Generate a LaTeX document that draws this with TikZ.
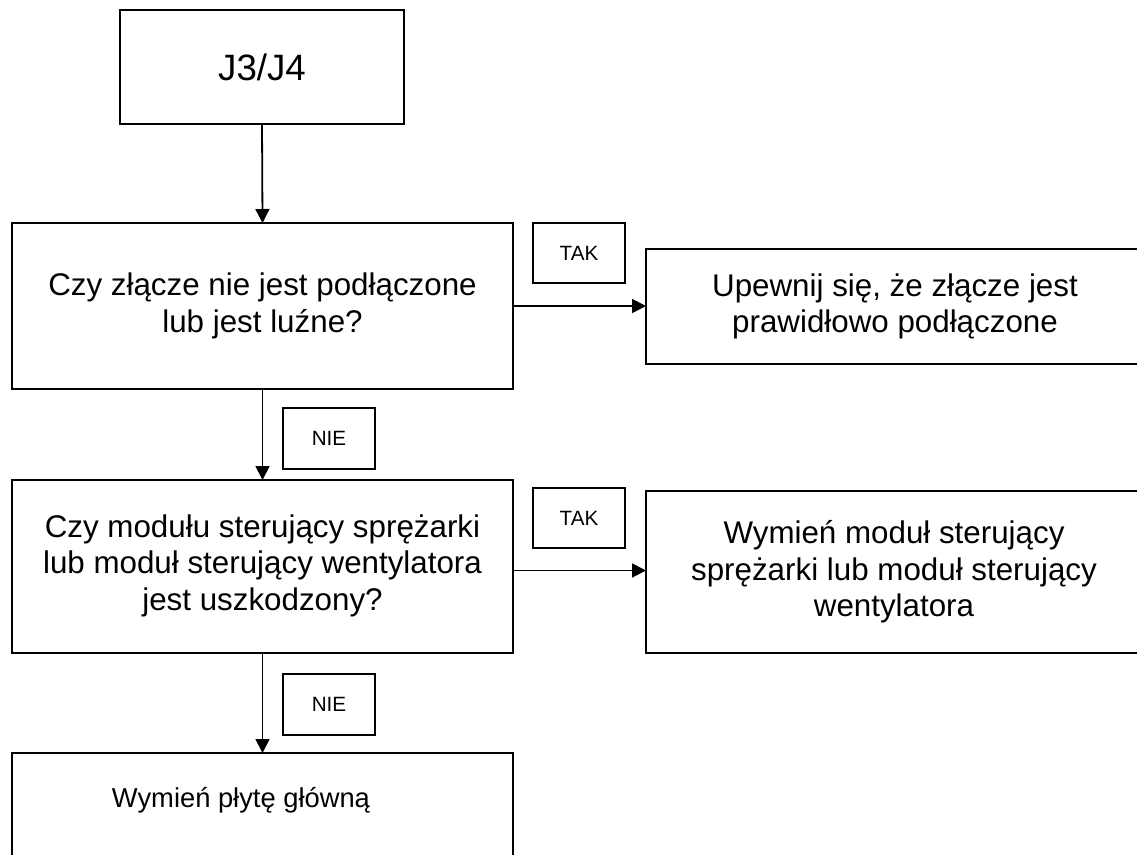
\documentclass[tikz,border=0pt]{standalone}
\usepackage{fontspec}
\setmainfont{Liberation Sans}
\usetikzlibrary{arrows.meta}
\tikzset{
  box/.style={draw=black, line width=1.35pt, inner sep=0pt, outer sep=0pt, align=center,
    font=\fontsize{23.5}{27.5}\selectfont},
  lbl/.style={draw=black, line width=1.35pt, inner sep=0pt, outer sep=0pt,
    minimum width=92*0.75pt, minimum height=60*0.75pt, font=\fontsize{15.5}{18}\selectfont},
  conn/.style={line width=1.35pt, -{Triangle[length=10.5pt,width=10.5pt]}},
}
\begin{document}
\begin{tikzpicture}[x=0.75pt,y=-0.75pt]
\useasboundingbox (0,0) rectangle (1137,854);
\clip (0,0) rectangle (1137,854);
\node[box, minimum width=284*0.75pt, minimum height=114*0.75pt, font=\fontsize{27.5}{30}\selectfont] (b1) at (262,67) {J3/J4};
\node[box, minimum width=501*0.75pt, minimum height=166*0.75pt] (b2) at (262.5,306) {Czy złącze nie jest podłączone\\lub jest luźne?};
\node[lbl] (tak1) at (579,253) {TAK};
\node[box, minimum width=498*0.75pt, minimum height=115*0.75pt] (b3) at (895,306.5) {Upewnij się, że złącze jest\\prawidłowo podłączone};
\node[lbl, minimum height=61*0.75pt] (nie1) at (329,438.5) {NIE};
\node[box, minimum width=501*0.75pt, minimum height=173*0.75pt] (b4) at (262.5,566.5) {\raisebox{-6pt}{\begin{tabular}{@{}c@{}}Czy modułu sterujący sprężarki\\lub moduł sterujący wentylatora\\jest uszkodzony?\end{tabular}}};
\node[lbl] (tak2) at (579,518) {TAK};
\node[box, minimum width=496*0.75pt, minimum height=162*0.75pt] (b5) at (894,572) {Wymień moduł sterujący\\sprężarki lub moduł sterujący\\wentylatora};
\node[lbl, minimum height=61*0.75pt] (nie2) at (329,704.5) {NIE};
\node[box, minimum width=501*0.75pt, minimum height=147*0.75pt] (b6) at (262.5,826.5) {};
\node[font=\fontsize{20.5}{24}\selectfont, inner sep=0pt] (t6) at (241,800) {Wymień płytę główną};
\draw[conn] (b1.south) -- (b2.north);
\draw[conn] (b2.east) -- (b2.east -| b3.west);
\draw[conn] (b2.south) -- (b4.north);
\draw[conn] ([yshift=-3pt]b4.east) -- ([yshift=-3pt]b4.east -| b5.west);
\draw[conn] (b4.south) -- (b6.north);
\end{tikzpicture}
\end{document}
